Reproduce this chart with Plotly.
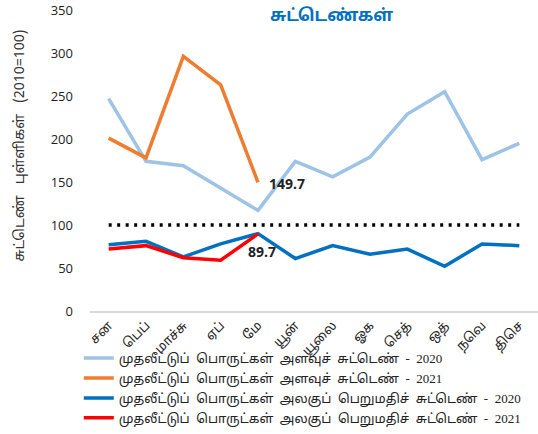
import plotly.graph_objects as go

months = ["சன", "பெப்", "மாச்சு", "ஏப்", "மே", "யூன்", "யூலை", "ஓக", "செத்", "ஒத்", "நவெ", "திசெ"]

volume_2020 = [247, 174, 169, 143, 117, 174, 156, 179, 229, 255, 176, 195]
volume_2021 = [201, 178, 296, 263, 149.7]
value_2020 = [77, 81, 63, 78, 90, 61, 76, 66, 72, 52, 78, 76]
value_2021 = [72, 76, 62, 59, 89.7]
base_line = [100] * 12

series_names = [
    "முதலீட்டுப்  பொருட்கள்  அளவுச்  சுட்டெண்  -  2020",
    "முதலீட்டுப்  பொருட்கள்  அளவுச்  சுட்டெண்  -  2021",
    "முதலீட்டுப்  பொருட்கள்  அலகுப்  பெறுமதிச்  சுட்டெண்  -  2020",
    "முதலீட்டுப்  பொருட்கள்  அலகுப்  பெறுமதிச்  சுட்டெண்  -  2021",
]
series_values = [volume_2020, volume_2021, value_2020, value_2021]
series_colors = ["#9DC3E6", "#ED7D31", "#0070C0", "#FF0000"]

TAMIL = "Noto Sans Tamil, Lohit Tamil, Noto Sans, sans-serif"
TAMIL_SERIF = "Liberation Serif, Noto Sans Tamil, Lohit Tamil, serif"

fig = go.Figure()

fig.add_trace(go.Scatter(
    x=months, y=base_line, mode="lines",
    line=dict(color="black", width=3.5, dash="3px,5.5px"),
    showlegend=False, hoverinfo="skip",
))

for i, (name, vals, col) in enumerate(zip(series_names, series_values, series_colors)):
    fig.add_trace(go.Scatter(
        x=months[:len(vals)], y=vals, mode="lines", name=name,
        legendgroup=f"g{i}",
        line=dict(color=col, width=3.5),
    ))

fig.add_annotation(x=months[4], y=volume_2021[4], text="<b>149.7</b>",
                   showarrow=False, xshift=29, yshift=-1,
                   font=dict(size=14, color="#222", family="Open Sans"))
fig.add_annotation(x=months[4], y=value_2021[4], text="<b>89.7</b>",
                   showarrow=False, xshift=4, yshift=-18,
                   font=dict(size=14, color="#222", family="Open Sans"))

fig.add_annotation(x=0.54, y=1.0, xref="paper", yref="paper", yanchor="middle",
                   text="<b>சுட்டெண்கள்</b>", showarrow=False, yshift=-6,
                   font=dict(size=17, color="#0070C0", family=TAMIL))

fig.add_annotation(x=-0.156, y=0.55, xref="paper", yref="paper",
                   xanchor="center", yanchor="middle",
                   text="சுட்டெண்   புள்ளிகள்   (2010=100)", textangle=-90,
                   showarrow=False, font=dict(size=14, color="#333", family=TAMIL))

fig.update_layout(
    width=538, height=434,
    margin=dict(l=90, r=0, t=10, b=123),
    plot_bgcolor="white", paper_bgcolor="white",
    font=dict(family=TAMIL_SERIF, size=12, color="#222"),
    legend=dict(x=-0.025, xref="paper", y=0.2093, yref="container",
                xanchor="left", yanchor="top",
                bgcolor="rgba(0,0,0,0)",
                tracegroupgap=0, itemwidth=30,
                font=dict(size=13, family=TAMIL_SERIF)),
)
fig.update_xaxes(
    type="category", range=[-0.5, 11.5], automargin=False,
    showline=True, linecolor="#d9d9d9", linewidth=1.5,
    showgrid=False, ticks="", tickangle=-45, ticklabeloverflow="allow",
    tickfont=dict(size=13, color="#222", family=TAMIL),
)
fig.update_yaxes(
    range=[0, 350], dtick=50, showgrid=False, showline=False, zeroline=False,
    automargin=False, ticklabeloverflow="allow",
    ticklabelstandoff=16, tickfont=dict(size=13, family="Open Sans", color="#222"),
)

# drop the page's default 8px body margin so the figure sits at the top-left corner
fig.write_html("out.html", config={"displayModeBar": False},
               post_script="document.body.style.margin='0';")
